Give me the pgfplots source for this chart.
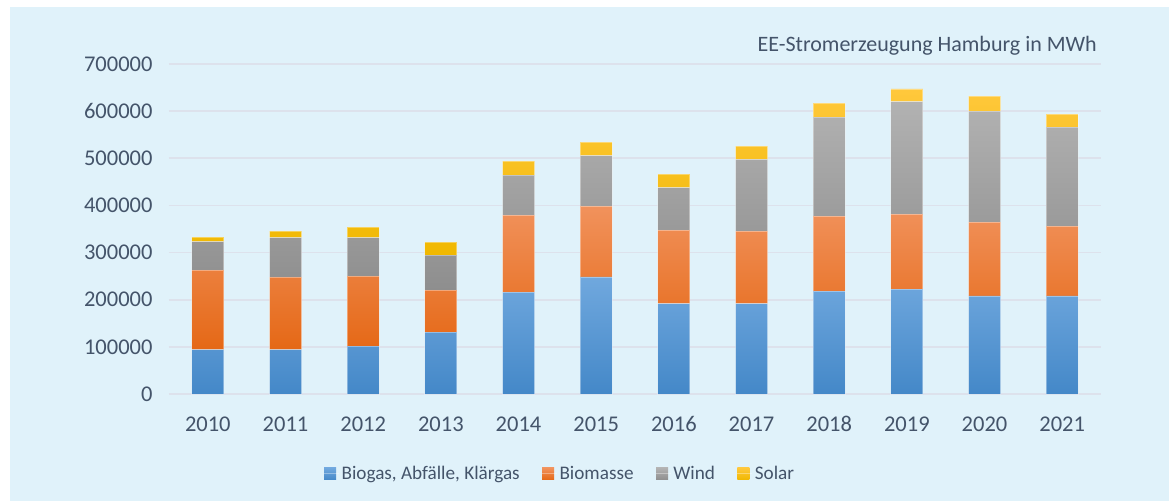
\documentclass[border=0pt]{standalone}
\usepackage{pgfplots}
\pgfplotsset{compat=1.18}
\usepackage{pgfplotstable}
\usepackage{fontspec}
\setmainfont{Carlito}
\definecolor{bg}{RGB}{224,242,250}
\definecolor{txt}{RGB}{68,84,106}
\definecolor{gridc}{RGB}{221,226,236}
\definecolor{bluet}{RGB}{112,168,222}
\definecolor{blueb}{RGB}{68,136,200}
\definecolor{oranget}{RGB}{241,146,92}
\definecolor{orangem}{RGB}{247,128,38}
\definecolor{orangeb}{RGB}{229,104,22}
\definecolor{grayt}{RGB}{178,178,178}
\definecolor{grayb}{RGB}{142,142,142}
\definecolor{solart}{RGB}{255,200,60}
\definecolor{solarb}{RGB}{240,184,0}
\pgfplotstableread{
x biogas biomasse wind solar
0 94000 169000 60000 10000
1 94000 154000 83500 14200
2 101800 148500 81200 22500
3 131500 89100 74200 27600
4 216300 163400 84800 29700
5 248200 150500 106700 29100
6 191500 156300 89800 29000
7 191500 154200 152000 28300
8 218400 159100 210000 29700
9 222700 159100 238200 27000
10 207900 156900 235400 31700
11 207900 148400 210000 27600
}\datatable
\begin{document}
\begin{tikzpicture}
\path (-169pt,-107pt) rectangle (1000pt,394pt);
\fill[bg] (-159pt,-107pt) rectangle (1000pt,387pt);
\begin{axis}[
  scale only axis,
  width=932pt, height=330pt,
  at={(0pt,0pt)}, anchor=south west,
  ybar stacked,
  bar width=32pt,
  xmin=-0.5, xmax=11.5,
  ymin=0, ymax=700000,
  xtick={0,...,11},
  xticklabels={2010,2011,2012,2013,2014,2015,2016,2017,2018,2019,2020,2021},
  ytick={0,100000,200000,300000,400000,500000,600000,700000},
  yticklabels={0,100000,200000,300000,400000,500000,600000,700000},
  scaled y ticks=false,
  axis line style={draw=none},
  major tick length=0pt,
  ymajorgrids,
  grid style={gridc, line width=1.6pt},
  tick label style={font=\fontsize{22.5}{27}\selectfont, text=txt},
  yticklabel style={xshift=-13pt},
  xticklabel style={yshift=-19pt},
  legend style={at={(rel axis cs:0.4195,-0.242)}, anchor=center, draw=none, fill=none,
    font=\fontsize{19.2}{23}\selectfont, text=txt, legend columns=-1,
    /tikz/every even column/.append style={column sep=20pt},
    nodes={inner sep=2pt}},
  legend image code/.code={\path[#1,draw=none] (0pt,-6pt) rectangle (12pt,6pt);\path (0pt,0pt) -- (15pt,0pt);},
]
\addplot[draw=white, draw opacity=0.35, line width=0.8pt, top color=bluet, bottom color=blueb] table[x=x,y=biogas]{\datatable};
\addplot[draw=white, draw opacity=0.35, line width=0.8pt, top color=oranget, middle color=orangem, bottom color=orangeb] table[x=x,y=biomasse]{\datatable};
\addplot[draw=white, draw opacity=0.35, line width=0.8pt, top color=grayt, bottom color=grayb] table[x=x,y=wind]{\datatable};
\addplot[draw=white, draw opacity=0.35, line width=0.8pt, top color=solart, bottom color=solarb] table[x=x,y=solar]{\datatable};
\legend{{Biogas, Abfälle, Klärgas}, Biomasse, Wind, Solar}
\end{axis}
\node[anchor=base east, text=txt, font=\fontsize{22}{26}\selectfont, inner sep=0pt] at (928pt,342pt) {EE-Stromerzeugung Hamburg in MWh};
\end{tikzpicture}
\end{document}
